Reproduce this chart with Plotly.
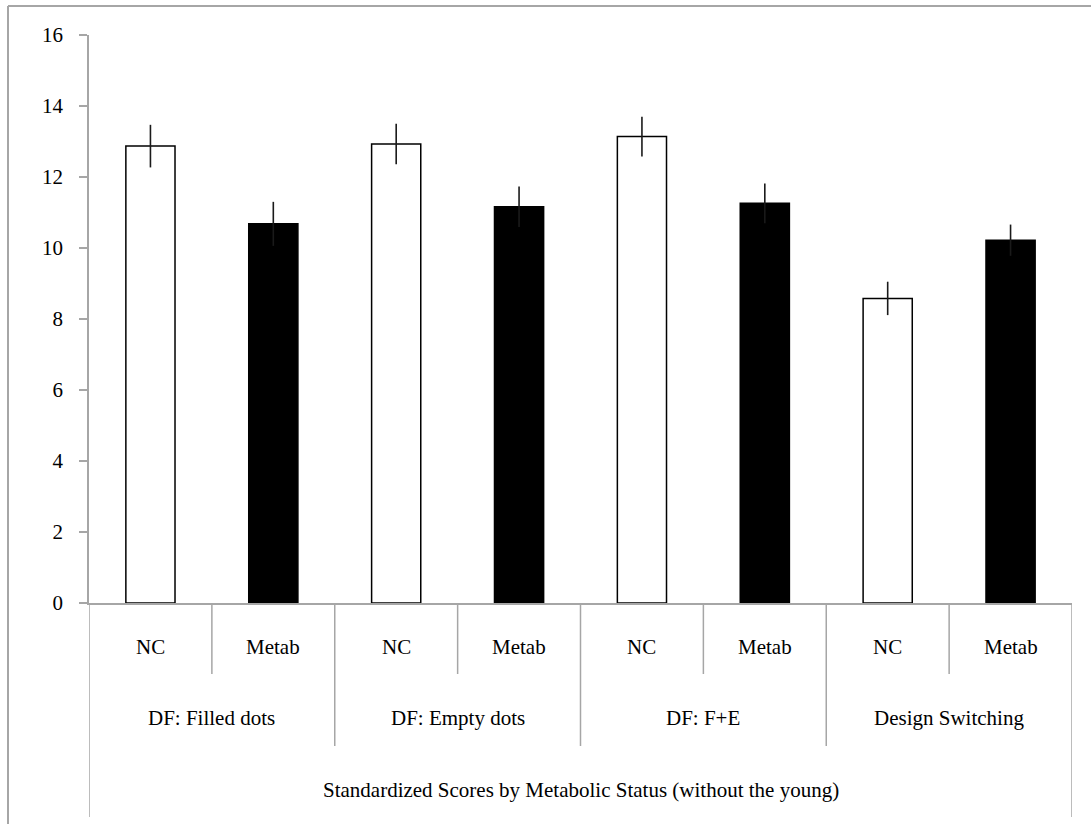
import plotly.graph_objects as go

groups = ["DF: Filled dots", "DF: Empty dots", "DF: F+E", "Design Switching"]
statuses = ["NC", "Metab"]
nc_values = [12.87, 12.93, 13.14, 8.58]
metab_values = [10.68, 11.16, 11.26, 10.22]
nc_err = [0.60, 0.57, 0.56, 0.47]
metab_err = [0.62, 0.57, 0.56, 0.44]
axis_title = "Standardized Scores by Metabolic Status (without the young)"
y_ticks = [0, 2, 4, 6, 8, 10, 12, 14, 16]

FONT = "Liberation Serif"
FS = 21
GRAY = "#a6a6a6"

n = len(groups)
nc_x = [2 * i for i in range(n)]
metab_x = [2 * i + 1 for i in range(n)]

fig = go.Figure()
fig.add_trace(go.Bar(
    x=nc_x, y=nc_values, width=0.4, name="NC",
    marker=dict(color="white", line=dict(color="black", width=1.5)),
    error_y=dict(type="data", array=nc_err, visible=True, color="#1a1a1a", thickness=1.6, width=0),
))
fig.add_trace(go.Bar(
    x=metab_x, y=metab_values, width=0.4, name="Metab",
    marker=dict(color="black", line=dict(color="black", width=1.5)),
    error_y=dict(type="data", array=metab_err, visible=True, color="#1a1a1a", thickness=1.6, width=0),
))

shapes = []
annotations = []
total = 2 * n
for i in range(total):
    annotations.append(dict(x=i, y=-0.078, xref="x", yref="paper", text=statuses[i % 2],
                            showarrow=False, font=dict(family=FONT, size=FS, color="black"),
                            yanchor="middle"))
for i in range(1, total):
    depth = -0.125 if i % 2 == 1 else -0.2518
    shapes.append(dict(type="line", xref="x", yref="paper", x0=i - 0.5, x1=i - 0.5,
                       y0=0, y1=depth, line=dict(color=GRAY, width=1.5)))
for g in range(n):
    annotations.append(dict(x=2 * g + 0.5, y=-0.203, xref="x", yref="paper", text=groups[g],
                            showarrow=False, font=dict(family=FONT, size=FS, color="black"),
                            yanchor="middle"))
for xv in (-0.5, total - 0.5):
    shapes.append(dict(type="line", xref="x", yref="paper", x0=xv, x1=xv,
                       y0=0, y1=-0.3768, line=dict(color=GRAY, width=1.5)))
annotations.append(dict(x=(total - 1) / 2, y=-0.329, xref="x", yref="paper", text=axis_title,
                        showarrow=False, font=dict(family=FONT, size=FS, color="black"),
                        yanchor="middle"))
shapes.append(dict(type="line", xref="paper", yref="paper", x0=-0.0824, x1=-0.0824,
                   y0=1.051, y1=-0.40, line=dict(color=GRAY, width=2)))
shapes.append(dict(type="line", xref="paper", yref="paper", x0=-0.0824, x1=1.03,
                   y0=1.051, y1=1.051, line=dict(color=GRAY, width=2)))

fig.update_layout(
    width=1091, height=824,
    margin=dict(l=89, r=19, t=35, b=221, autoexpand=False),
    paper_bgcolor="white", plot_bgcolor="white",
    barmode="overlay", showlegend=False,
    shapes=shapes, annotations=annotations,
    font=dict(family=FONT, size=FS, color="black"),
    xaxis=dict(range=[-0.5, total - 0.5], showticklabels=False, ticks="", showgrid=False,
               zeroline=False, showline=True, linecolor=GRAY, linewidth=1.5),
    yaxis=dict(range=[0, 16], tickvals=y_ticks, ticks="outside", ticklen=8, tickcolor=GRAY,
               tickwidth=1.5, showgrid=False, zeroline=False, showline=True, linecolor=GRAY,
               linewidth=1.5, ticklabelstandoff=12,
               tickfont=dict(family=FONT, size=FS, color="black")),
)

fig.write_html("out.html", config={"displayModeBar": False},
               post_script="document.body.style.margin='0';document.body.style.overflow='hidden';")
